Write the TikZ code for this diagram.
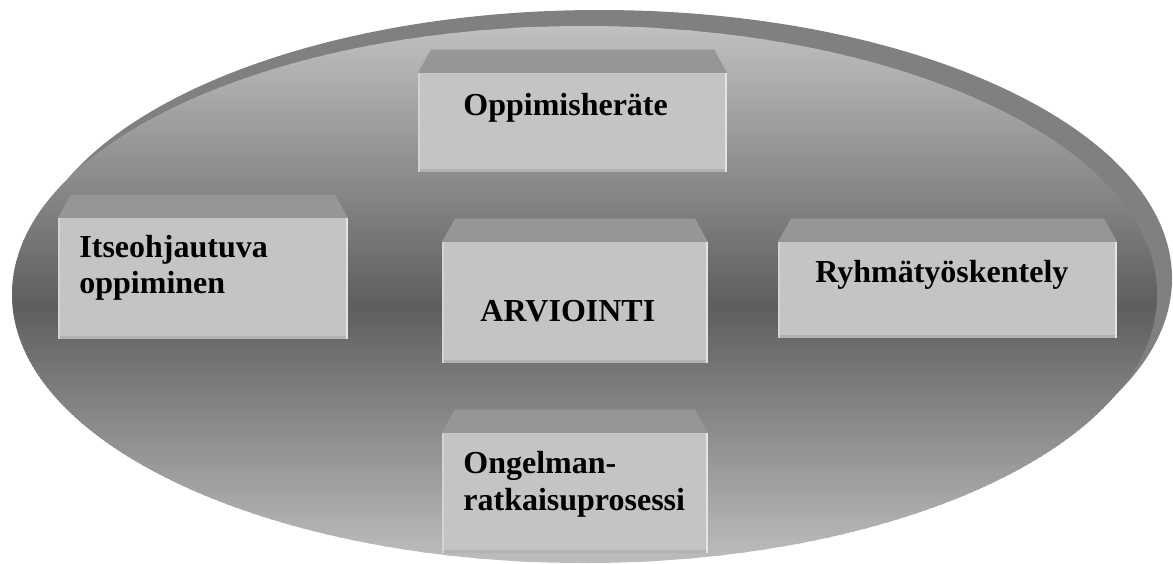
\documentclass[tikz,border=0pt]{standalone}
\usepackage{fontspec}
\setmainfont{Liberation Serif}
\begin{document}
\begin{tikzpicture}[x=0.5pt,y=-0.5pt,
  shadowfill/.style={fill=shadowgray},
  topface/.style={fill=topgray},
  frontface/.style={fill=frontgray},
  lbl/.style={inner sep=0pt,font=\fontsize{16}{18}\selectfont\bfseries,align=left,text=black}]
\definecolor{shadowgray}{HTML}{808080}
\definecolor{topgray}{HTML}{969696}
\definecolor{frontgray}{HTML}{C4C4C4}
\definecolor{edgelight}{HTML}{D4D4D4}
\definecolor{edgewhite}{HTML}{E4E4E4}
\definecolor{edgedark}{HTML}{B2B2B2}

% bevelled box: name, left, top, right, bottom (front face)
\newcommand\bevelbox[5]{%
  \coordinate (#1-nw) at (#2,#3);
  \coordinate (#1-ne) at (#4,#3);
  \coordinate (#1-se) at (#4,#5);
  \coordinate (#1-sw) at (#2,#5);
  \fill[topface] (#1-nw) -- ([shift={(13,-23.5)}]#1-nw) -- ([shift={(-13,-23.5)}]#1-ne) -- (#1-ne) -- cycle;
  \fill[frontface] (#1-nw) rectangle (#1-se);
  \fill[edgedark] ([shift={(0,-3)}]#1-sw) rectangle (#1-se);
  \fill[edgelight] (#1-nw) rectangle ([shift={(2,0)}]#1-sw);
  \fill[edgewhite] ([shift={(-2,0)}]#1-ne) rectangle (#1-se);
}

\useasboundingbox (0,0) rectangle (1173,563);

% backdrop: shadow ellipse, then the main ellipse shaded light-dark-light in bands
\fill[shadowfill] (599.5,278.5) ellipse [x radius=572.5, y radius=268.5];
\begin{scope}
  \clip (584.5,294.5) ellipse [x radius=572.5, y radius=268.5];
  \foreach \yy in {24,27,...,566}{
    \ifdim\yy pt<305pt
      \pgfmathsetmacro\g{192-0.35125*(\yy-26)}
    \else
      \pgfmathsetmacro\g{94+0.37209*(\yy-305)}
    \fi
    \pgfmathsetmacro\gg{max(0,min(1,\g/255))}
    \definecolor{bandc}{gray}{\gg}
    \fill[bandc] (0,\yy) rectangle (1173,\yy+3.6);
  }
\end{scope}

\bevelbox{bA}{418}{73}{727}{172}
\bevelbox{bB}{58}{218}{348}{339}
\bevelbox{bC}{442}{242}{708}{363}
\bevelbox{bD}{778}{242}{1117}{338}
\bevelbox{bE}{442}{433}{708}{553}

\node[lbl,anchor=base west] (tA) at (463,115) {Oppimisheräte};
\node[lbl,anchor=base west] (tB) at (79,293) {Itseohjautuva\\oppiminen};
\node[lbl,anchor=base west] (tC) at (480,321) {ARVIOINTI};
\node[lbl,anchor=base west] (tD) at (815,282) {Ryhmätyöskentely};
\node[lbl,anchor=base west] (tE) at (463,510) {Ongelman-\\[0.5pt]ratkaisuprosessi};
\end{tikzpicture}
\end{document}
